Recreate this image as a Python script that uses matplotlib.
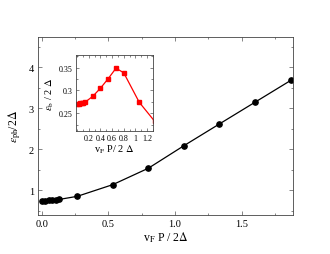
import matplotlib
matplotlib.use("Agg")
import matplotlib.pyplot as plt
from matplotlib.ticker import MultipleLocator

# main curve: phonon-like branch
vp_main = [0.0, 0.027, 0.053, 0.08, 0.107, 0.133, 0.267, 0.533, 0.8,
           1.067, 1.333, 1.6, 1.867]
eps_ph = [0.75, 0.75, 0.755, 0.76, 0.77, 0.78, 0.855, 1.14, 1.54,
          2.09, 2.62, 3.15, 3.68]

# inset: bound state
vp_inset = [0.0, 0.027, 0.053, 0.08, 0.107, 0.133, 0.267, 0.4, 0.533,
            0.667, 0.8, 1.067, 1.333]
eps_b = [0.271, 0.271, 0.272, 0.272, 0.273, 0.274, 0.287, 0.305, 0.326,
         0.349, 0.339, 0.274, 0.232]

plt.rcParams["font.family"] = ["Liberation Serif", "DejaVu Serif"]
plt.rcParams["mathtext.fontset"] = "stix"

fig = plt.figure(figsize=(3.3, 2.55), dpi=100)
ax = fig.add_axes([0.115, 0.153, 0.773, 0.698])
ax.plot(vp_main, eps_ph, "-o", color="black", lw=0.9, ms=3.8)
ax.set_xlim(-0.028, 1.885)
ax.set_ylim(0.4, 4.74)
ax.xaxis.set_major_locator(MultipleLocator(0.5))
ax.xaxis.set_minor_locator(MultipleLocator(0.25))
ax.yaxis.set_major_locator(MultipleLocator(1))
ax.yaxis.set_minor_locator(MultipleLocator(0.5))
ax.tick_params(which="both", direction="in", top=True, right=True,
               labelsize=7.5, width=0.5, color="#555555", pad=3)
ax.tick_params(which="major", length=3)
ax.tick_params(which="minor", length=1.5)
ax.set_yticks([1, 2, 3, 4])
for s in ax.spines.values():
    s.set_linewidth(0.6)
    s.set_color("#444444")
ax.set_xlabel(r"v$_{\rm F}$ P / 2$\Delta$", fontsize=8.5, labelpad=1)
ax.set_ylabel(r"$\varepsilon_{\rm ph}$/2$\Delta$", fontsize=8.5, labelpad=4)

ins = fig.add_axes([0.229, 0.481, 0.234, 0.301])
ins.plot(vp_inset, eps_b, "-s", color="red", lw=0.9, ms=2.8)
ins.set_xlim(-0.028, 1.3)
ins.set_ylim(0.21, 0.379)
ins.xaxis.set_minor_locator(MultipleLocator(0.1))
ins.yaxis.set_minor_locator(MultipleLocator(0.025))
ins.set_xticks([0.2, 0.4, 0.6, 0.8, 1.0, 1.2])
ins.set_xticklabels(["0.2", "0.4", "0.6", "0.8", "1", "1.2"])
ins.set_yticks([0.25, 0.3, 0.35])
ins.set_yticklabels(["0.25", "0.3", "0.35"])
ins.tick_params(which="both", direction="in", top=True, right=True,
                labelsize=5.8, width=0.5, color="#555555", pad=2)
ins.tick_params(which="major", length=2.5)
ins.tick_params(which="minor", length=1.2)
for s in ins.spines.values():
    s.set_linewidth(0.6)
    s.set_color("#444444")
ins.set_xlabel(r"v$_{\rm F}$ P/ 2 $\Delta$", fontsize=7.5, labelpad=0)
ins.set_ylabel(r"$\varepsilon_{\rm b}$ / 2 $\Delta$", fontsize=7.5, labelpad=2)

fig.savefig("out.png", dpi=100)
